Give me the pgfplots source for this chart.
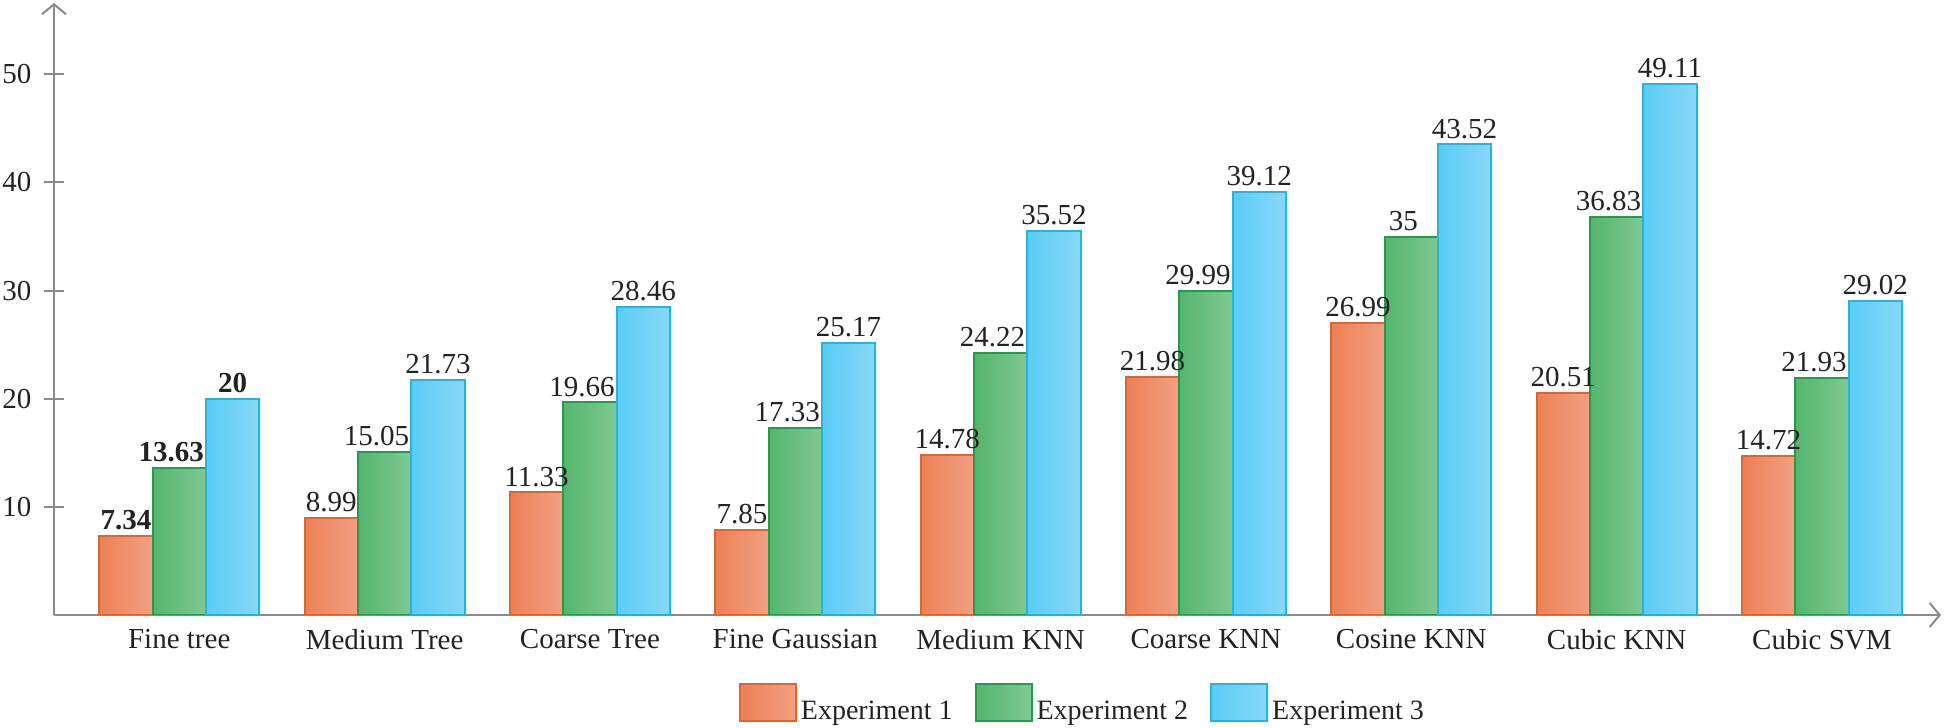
\documentclass[border=0pt]{standalone}
\usepackage{pgfplots}
\pgfplotsset{compat=1.18}
\usetikzlibrary{arrows.meta}
\usepackage{fontspec}
\setmainfont{Liberation Serif}

\definecolor{axisgray}{HTML}{8A8A8A}
\definecolor{oB}{HTML}{E0642C}
\definecolor{oL}{HTML}{EC8055}
\definecolor{oR}{HTML}{F2A084}
\definecolor{gB}{HTML}{1E9E48}
\definecolor{gL}{HTML}{55B56E}
\definecolor{gR}{HTML}{7FC893}
\definecolor{bB}{HTML}{22B5E2}
\definecolor{bL}{HTML}{5ACCF5}
\definecolor{bR}{HTML}{88D8F8}
\definecolor{txt}{HTML}{222222}

\pgfplotsset{
  barbase/.style={ybar, bar width=26.67pt, line width=1pt, forget plot,
    nodes near coords, point meta=explicit symbolic},
  e1/.style={barbase, bar shift=-26.67pt, draw=oB, left color=oL, right color=oR,
    every node near coord/.append style={xshift=-26.67pt}},
  e2/.style={barbase, bar shift=0pt, draw=gB, left color=gL, right color=gR,
    every node near coord/.append style={xshift=-4pt}},
  e3/.style={barbase, bar shift=26.67pt, draw=bB, left color=bL, right color=bR,
    every node near coord/.append style={xshift=26.67pt}},
}

\begin{document}
\begin{tikzpicture}
\path[use as bounding box] (-27pt,-56.5pt) rectangle (945.5pt,307.5pt);
\begin{axis}[
  at={(0,0)}, anchor=south west,
  scale only axis, width=943.5pt, height=306pt,
  xmin=-0.61, xmax=8.58, ymin=0, ymax=56.6,
  axis lines=left,
  axis line style={draw=axisgray, line width=1pt, -{Straight Barb[length=5pt,width=12pt,line width=1pt]}},
  xtick={0,1,2,3,4,5,6,7,8},
  xticklabels={Fine tree, Medium Tree, Coarse Tree, Fine Gaussian, Medium KNN, Coarse KNN, Cosine KNN, Cubic KNN, Cubic SVM},
  x tick style={draw=none},
  ytick={10,20,30,40,50},
  y tick style={draw=axisgray, line width=1pt},
  tick align=center, major tick length=9.5pt,
  tick label style={font=\fontsize{14.5}{17}\selectfont, text=txt},
  xticklabel style={yshift=1pt},
  yticklabel style={xshift=-3pt},
  /pgf/number format/assume math mode=true,
  every node near coord/.append style={font=\fontsize{14.5}{17}\selectfont, text=txt, inner sep=2.5pt, anchor=south},
  legend style={at={(0.5455,-0.1465)}, anchor=center, draw=none, fill=none,
    font=\fontsize{14}{17}\selectfont, text=txt, legend columns=3,
    /tikz/every even column/.append style={column sep=9pt}},
  legend image code/.code={\draw[#1] (0pt,-4.5pt) rectangle (28pt,14pt);},
]
\addlegendimage{draw=oB, line width=1pt, left color=oL, right color=oR}
\addlegendentry{Experiment 1}
\addlegendimage{draw=gB, line width=1pt, left color=gL, right color=gR}
\addlegendentry{Experiment 2}
\addlegendimage{draw=bB, line width=1pt, left color=bL, right color=bR}
\addlegendentry{Experiment 3}
% Experiment 1
\addplot[e1] coordinates {(0,7.34) [\textbf{7.34}]};
\addplot[e1] coordinates {(1,8.99) [8.99]};
\addplot[e1] coordinates {(2,11.33) [11.33]};
\addplot[e1] coordinates {(3,7.85) [7.85]};
\addplot[e1] coordinates {(4,14.78) [14.78]};
\addplot[e1] coordinates {(5,21.98) [21.98]};
\addplot[e1] coordinates {(6,26.99) [26.99]};
\addplot[e1] coordinates {(7,20.51) [20.51]};
\addplot[e1] coordinates {(8,14.72) [14.72]};
% Experiment 2
\addplot[e2] coordinates {(0,13.63) [\textbf{13.63}]};
\addplot[e2] coordinates {(1,15.05) [15.05]};
\addplot[e2] coordinates {(2,19.66) [19.66]};
\addplot[e2] coordinates {(3,17.33) [17.33]};
\addplot[e2] coordinates {(4,24.22) [24.22]};
\addplot[e2] coordinates {(5,29.99) [29.99]};
\addplot[e2] coordinates {(6,35) [35]};
\addplot[e2] coordinates {(7,36.83) [36.83]};
\addplot[e2] coordinates {(8,21.93) [21.93]};
% Experiment 3
\addplot[e3] coordinates {(0,20) [\textbf{20}]};
\addplot[e3] coordinates {(1,21.73) [21.73]};
\addplot[e3] coordinates {(2,28.46) [28.46]};
\addplot[e3] coordinates {(3,25.17) [25.17]};
\addplot[e3] coordinates {(4,35.52) [35.52]};
\addplot[e3] coordinates {(5,39.12) [39.12]};
\addplot[e3] coordinates {(6,43.52) [43.52]};
\addplot[e3] coordinates {(7,49.11) [49.11]};
\addplot[e3] coordinates {(8,29.02) [29.02]};
\end{axis}
\end{tikzpicture}
\end{document}
